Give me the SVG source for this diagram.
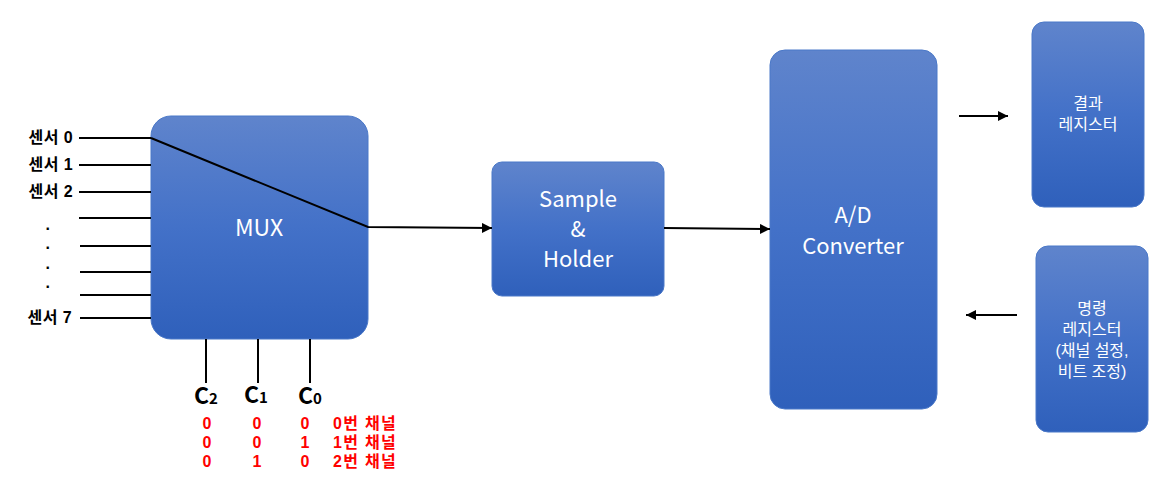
<svg xmlns="http://www.w3.org/2000/svg" width="1158" height="494" viewBox="0 0 1158 494">
<defs>
<linearGradient id="g" x1="0" y1="0" x2="0" y2="1">
<stop offset="0" stop-color="#5f84cc"/>
<stop offset="0.5" stop-color="#4371c8"/>
<stop offset="1" stop-color="#2f60bb"/>
</linearGradient>
<marker id="ah" viewBox="0 0 10 10" refX="10" refY="5" markerWidth="10" markerHeight="10" markerUnits="userSpaceOnUse" orient="auto">
<path d="M0,0 L10,5 L0,10 Z" fill="#000"/>
</marker>
<style>
.box{fill:url(#g);stroke:#4a78c8;stroke-width:1}
.wt{fill:#fff;font-family:"Noto Sans CJK KR","Noto Sans",sans-serif;text-anchor:middle}
.rg{font-family:"Liberation Sans","Noto Sans CJK KR",sans-serif;font-size:16px}
.ln{stroke:#000;stroke-width:2;fill:none}
.lb{font-family:"Liberation Sans","Noto Sans CJK KR",sans-serif;font-weight:bold;font-size:16px;letter-spacing:0.4px;fill:#000}
.rd{font-family:"Liberation Sans","Noto Sans CJK KR",sans-serif;font-weight:bold;font-size:16px;fill:#ff0000}
.sp{letter-spacing:1.3px}
.cc{font-family:"Noto Sans CJK KR","Noto Sans",sans-serif;font-weight:bold;font-size:23px;fill:#000}
</style>
</defs>
<rect width="1158" height="494" fill="#fff"/>
<g id="mux">
<rect class="box" x="151" y="116" width="217" height="223" rx="20"/>
<text class="wt" x="259" y="236" font-size="23">MUX</text>
</g>
<g id="sh">
<rect class="box" x="492" y="162" width="172" height="134" rx="10"/>
<text class="wt" x="578" y="207" font-size="22">Sample</text>
<text class="wt" x="578" y="237" font-size="22">&amp;</text>
<text class="wt" x="578" y="267" font-size="22">Holder</text>
</g>
<g id="adc">
<rect class="box" x="770" y="50" width="167" height="359" rx="15"/>
<text class="wt" x="853" y="223" font-size="22">A/D</text>
<text class="wt" x="853" y="254" font-size="22">Converter</text>
</g>
<g id="result">
<rect class="box" x="1032" y="22" width="112" height="185" rx="12"/>
<text class="wt rg" x="1088" y="109">결과</text>
<text class="wt rg" x="1088" y="130">레지스터</text>
</g>
<g id="cmd">
<rect class="box" x="1036" y="246" width="112" height="186" rx="12"/>
<text class="wt rg" x="1092" y="314">명령</text>
<text class="wt rg" x="1092" y="335">레지스터</text>
<text class="wt rg" x="1092" y="356">(채널 설정,</text>
<text class="wt rg" x="1092" y="377">비트 조정)</text>
</g>
<g id="connectors">
<line class="ln" x1="79" y1="138" x2="151" y2="138"/>
<line class="ln" x1="79" y1="165" x2="151" y2="165"/>
<line class="ln" x1="79" y1="192" x2="151" y2="192"/>
<line class="ln" x1="79" y1="218" x2="151" y2="218"/>
<line class="ln" x1="80" y1="246" x2="151" y2="246"/>
<line class="ln" x1="80" y1="272" x2="151" y2="272"/>
<line class="ln" x1="80" y1="295" x2="151" y2="295"/>
<line class="ln" x1="80" y1="318" x2="151" y2="318"/>
<polyline class="ln" points="151,138 368,227 492,228" marker-end="url(#ah)"/>
<line class="ln" x1="664" y1="228" x2="770" y2="229" marker-end="url(#ah)"/>
<line class="ln" x1="959" y1="116" x2="1008" y2="116" marker-end="url(#ah)"/>
<line class="ln" x1="1017" y1="315" x2="966" y2="315" marker-end="url(#ah)"/>
<line class="ln" x1="206" y1="339" x2="206" y2="383"/>
<line class="ln" x1="258" y1="339" x2="258" y2="383"/>
<line class="ln" x1="310" y1="339" x2="310" y2="383"/>
</g>
<g id="labels">
<text class="lb" x="73" y="143" text-anchor="end">센서 0</text>
<text class="lb" x="73" y="170" text-anchor="end">센서 1</text>
<text class="lb" x="73" y="197" text-anchor="end">센서 2</text>
<text class="lb" x="72" y="323" text-anchor="end">센서 7</text>
<text class="lb" x="48" y="230" text-anchor="middle">.</text>
<text class="lb" x="48" y="249" text-anchor="middle">.</text>
<text class="lb" x="48" y="269" text-anchor="middle">.</text>
<text class="lb" x="48" y="288" text-anchor="middle">.</text>
<text class="cc" x="194" y="404">C<tspan font-size="15">2</tspan></text>
<text class="cc" x="244" y="403">C<tspan font-size="15">1</tspan></text>
<text class="cc" x="298" y="404">C<tspan font-size="15">0</tspan></text>
<text class="rd" x="207" y="429" text-anchor="middle">0</text>
<text class="rd" x="257" y="429" text-anchor="middle">0</text>
<text class="rd" x="305" y="429" text-anchor="middle">0</text>
<text class="rd sp" x="333" y="429">0번 채널</text>
<text class="rd" x="207" y="448" text-anchor="middle">0</text>
<text class="rd" x="257" y="448" text-anchor="middle">0</text>
<text class="rd" x="305" y="448" text-anchor="middle">1</text>
<text class="rd sp" x="333" y="448">1번 채널</text>
<text class="rd" x="207" y="467" text-anchor="middle">0</text>
<text class="rd" x="257" y="467" text-anchor="middle">1</text>
<text class="rd" x="305" y="467" text-anchor="middle">0</text>
<text class="rd sp" x="333" y="467">2번 채널</text>
</g>
</svg>
